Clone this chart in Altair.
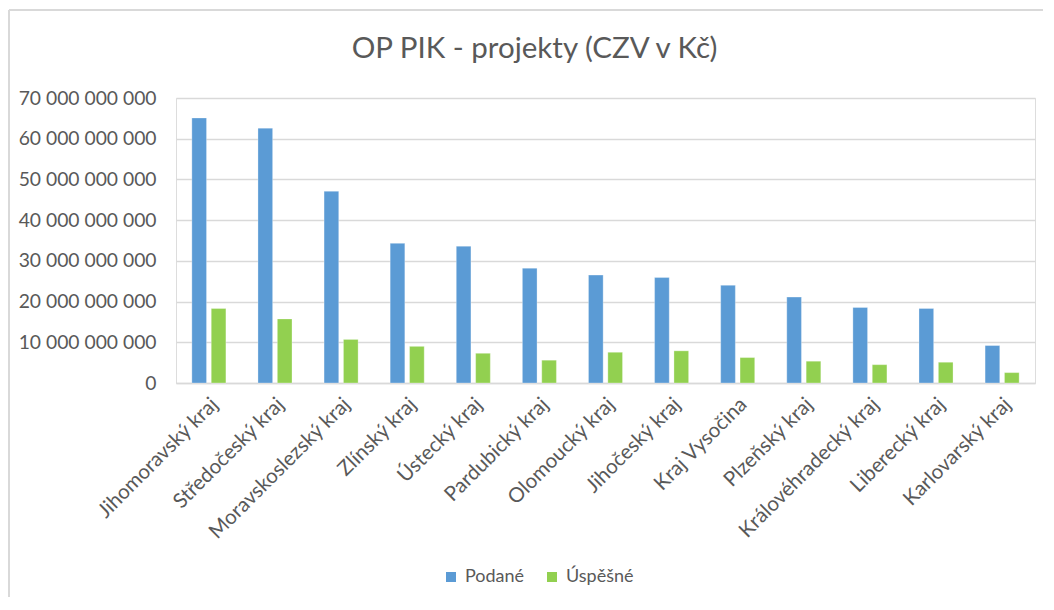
import altair as alt
import pandas as pd

regions = [
    "Jihomoravský kraj", "Středočeský kraj", "Moravskoslezský kraj", "Zlínský kraj",
    "Ústecký kraj", "Pardubický kraj", "Olomoucký kraj", "Jihočeský kraj",
    "Kraj Vysočina", "Plzeňský kraj", "Královéhradecký kraj", "Liberecký kraj",
    "Karlovarský kraj",
]
podane = [65.1e9, 62.6e9, 47.1e9, 34.3e9, 33.6e9, 28.2e9, 26.5e9, 25.9e9,
          24.0e9, 21.1e9, 18.55e9, 18.3e9, 9.2e9]
uspesne = [18.3e9, 15.75e9, 10.7e9, 9.0e9, 7.3e9, 5.6e9, 7.55e9, 7.9e9,
           6.25e9, 5.35e9, 4.5e9, 5.1e9, 2.55e9]
series = ["Podané", "Úspěšné"]
colors = ["#5B9BD5", "#92D050"]
y_ticks = [0, 10e9, 20e9, 30e9, 40e9, 50e9, 60e9, 70e9]

rows = []
for r, p, u in zip(regions, podane, uspesne):
    rows.append({"kraj": r, "serie": series[0], "hodnota": p})
    rows.append({"kraj": r, "serie": series[1], "hodnota": u})
df = pd.DataFrame(rows)

FONT = "Lato"
TXT = "#595959"
GRID = "#D9D9D9"

bars = alt.Chart(df).mark_bar(stroke="white", strokeWidth=0.5, strokeOpacity=0.6).encode(
    x=alt.X("kraj:N", sort=regions,
            scale=alt.Scale(paddingInner=0.485, paddingOuter=0.24),
            axis=alt.Axis(title=None, labelAngle=-45, labelAlign="right", labelBaseline="middle",
                          labelFontSize=20.5, labelColor=TXT, labelFont=FONT, ticks=False,
                          domain=True, domainColor=GRID, domainWidth=1.5, labelPadding=18,
                          labelOffset=6, labelOverlap=False, labelLimit=400)),
    xOffset=alt.XOffset("serie:N", sort=series, scale=alt.Scale(paddingInner=0.243, paddingOuter=0)),
    y=alt.Y("hodnota:Q", scale=alt.Scale(domain=[0, 70e9], nice=False),
            axis=alt.Axis(title=None, values=y_ticks, ticks=False, domain=False,
                          grid=True, gridColor=GRID, gridWidth=1.5,
                          labelFontSize=19.3, labelColor=TXT, labelFont=FONT, labelPadding=20,
                          labelExpr="replace(format(datum.value, ','), regexp(',', 'g'), ' ')")),
    color=alt.Color("serie:N", sort=series,
                    scale=alt.Scale(domain=series, range=colors),
                    legend=alt.Legend(title=None, orient="none", legendX=266, legendY=470,
                                      direction="horizontal", symbolType="square",
                                      symbolSize=100, symbolStrokeWidth=0,
                                      labelFontSize=18, labelColor=TXT, labelFont=FONT,
                                      columnPadding=18, labelOffset=5)),
)

one = alt.Data(values=[{}])
frame_top = alt.Chart(one).mark_rule(stroke=GRID, strokeWidth=2).encode(
    x=alt.value(-167), x2=alt.value(867), y=alt.value(-88)
)
frame_left = alt.Chart(one).mark_rule(stroke=GRID, strokeWidth=2).encode(
    x=alt.value(-167), y=alt.value(-88), y2=alt.value(520)
)

chart = alt.layer(frame_top, frame_left, bars).properties(
    width=859, height=285,
    title=alt.TitleParams("OP PIK - projekty (CZV v Kč)", font=FONT, fontSize=29.5,
                          fontWeight="normal", color=TXT, anchor="middle", frame="group",
                          dx=-71, offset=-55),
    autosize=alt.AutoSizeParams(type="none"),
    padding={"left": 168, "top": 90, "right": 8, "bottom": 214},
).configure_view(strokeWidth=0, stroke="white").configure(background="white")

chart.save("out.html", embed_options={"renderer": "svg", "actions": False})
